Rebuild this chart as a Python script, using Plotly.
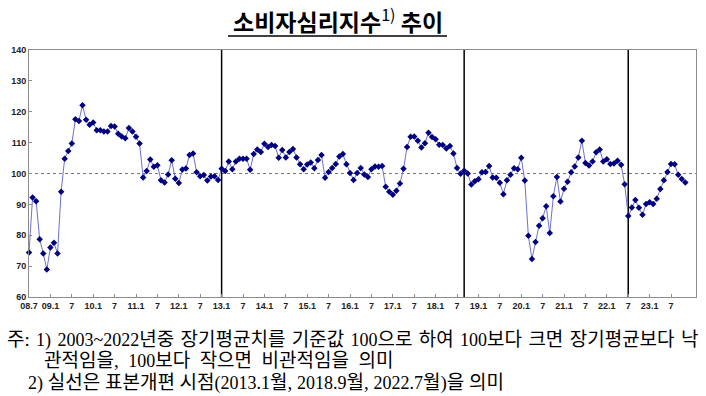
import plotly.graph_objects as go

# ---- data ----
START_YEAR, START_MONTH = 2008, 7
V2008 = [74.4, 92.2, 91.0, 78.7, 74.1, 68.9]
V2009 = [76.0, 77.6, 74.1, 94.1, 104.8, 107.3, 109.7, 117.6, 117.0, 122.1, 117.4, 115.8]
V2010 = [116.5, 114.0, 114.0, 113.6, 113.6, 115.4, 115.2, 112.9, 112.0, 111.4, 114.7, 113.6]
V2011 = [111.9, 109.7, 98.7, 100.8, 104.5, 102.2, 102.7, 97.8, 97.1, 99.7, 104.3, 98.3]
V2012 = [96.9, 101.3, 101.6, 106.0, 106.5, 100.4, 99.1, 99.5, 97.7, 99.0, 99.1, 97.9]
V2013 = [101.5, 100.8, 103.9, 101.4, 103.9, 104.8, 104.8, 104.8, 101.2, 106.3, 107.8, 107.0]
V2014 = [109.6, 108.6, 109.2, 108.9, 105.1, 107.6, 105.2, 107.0, 107.9, 105.2, 103.0, 101.4]
V2015 = [102.9, 103.6, 101.7, 104.4, 106.0, 98.6, 100.5, 101.8, 103.1, 105.5, 106.3, 103.0]
V2016 = [100.2, 97.9, 100.2, 101.8, 99.7, 98.9, 101.4, 102.3, 102.2, 102.4, 95.7, 94.1]
V2017 = [93.1, 94.4, 96.8, 101.5, 108.6, 111.9, 112.0, 110.6, 108.4, 109.8, 113.2, 111.8]
V2018 = [111.1, 109.3, 109.2, 108.1, 108.9, 106.5, 101.8, 99.9, 100.9, 100.0, 96.4, 97.5]
V2019 = [98.1, 100.4, 100.5, 102.4, 98.7, 98.6, 97.0, 93.3, 97.8, 99.6, 101.7, 101.4]
V2020 = [105.1, 97.7, 79.8, 72.3, 77.8, 83.1, 85.5, 89.4, 80.7, 92.6, 98.9, 90.9]
V2021 = [95.1, 97.3, 100.4, 102.3, 105.2, 110.6, 103.4, 102.6, 103.9, 106.9, 107.8, 103.9]
V2022 = [104.6, 103.1, 103.2, 104.1, 102.8, 96.5, 86.2, 89.0, 91.4, 88.9, 86.6, 90.1]
V2023 = [90.7, 90.1, 91.8, 95.0, 97.8, 100.5, 103.1, 103.0, 99.6, 98.2, 97.1]

values = (V2008 + V2009 + V2010 + V2011 + V2012 + V2013 + V2014 + V2015 +
          V2016 + V2017 + V2018 + V2019 + V2020 + V2021 + V2022 + V2023)


def month_labels(y, m, n):
    out = []
    for _ in range(n):
        out.append(f"{y % 100:02d}.{m}")
        m += 1
        if m > 12:
            m = 1
            y += 1
    return out


all_categories = month_labels(START_YEAR, START_MONTH, len(values) + 3)
categories = all_categories[:len(values)]

TICK_VALS = ["08.7", "09.1", "09.7", "10.1", "10.7", "11.1", "11.7", "12.1", "12.7",
             "13.1", "13.7", "14.1", "14.7", "15.1", "15.7", "16.1", "16.7", "17.1",
             "17.7", "18.1", "18.7", "19.1", "19.7", "20.1", "20.7", "21.1", "21.7",
             "22.1", "22.7", "23.1", "23.7"]
TICK_TEXT = ["08.7", "09.1", "7", "10.1", "7", "11.1", "7", "12.1", "7",
             "13.1", "7", "14.1", "7", "15.1", "7", "16.1", "7", "17.1",
             "7", "18.1", "7", "19.1", "7", "20.1", "7", "21.1", "7",
             "22.1", "7", "23.1", "7"]
Y_TICKS = [60, 70, 80, 90, 100, 110, 120, 130, 140]
REVISIONS = ["13.1", "18.9", "22.7"]
BASELINE = 100

# ---- layout geometry ----
W, H = 706, 396
L, R, T, B = 29, 10, 50, 99
PW, PH = W - L - R, H - T - B


def px2x(px):
    return (px - L) / PW


def px2y(py):
    return (H - B - py) / PH


fig = go.Figure()
fig.add_trace(go.Scatter(
    x=categories, y=values, mode="lines+markers",
    line=dict(color="#7070d0", width=1),
    marker=dict(symbol="diamond", size=5, color="#000080"),
    cliponaxis=False, hoverinfo="skip", showlegend=False,
))

shapes = []
shapes.append(dict(type="line", xref="paper", yref="y", x0=0, x1=1, y0=BASELINE, y1=BASELINE,
                   line=dict(color="#777777", width=1, dash="dot"), layer="below"))
for rv in REVISIONS:
    idx = all_categories.index(rv)
    shapes.append(dict(type="line", xref="x", yref="paper", x0=idx, x1=idx, y0=0, y1=1,
                       line=dict(color="#000000", width=1.5), layer="below"))
shapes.append(dict(type="line", xref="paper", yref="paper", x0=px2x(228), x1=px2x(447),
                   y0=px2y(36), y1=px2y(36), line=dict(color="#000000", width=1.5)))

annotations = [
    dict(text="<b>소비자심리지수</b><sup>1)</sup><b> 추이</b>", x=px2x(337.5), y=px2y(20),
         xref="paper", yref="paper", xanchor="center", yanchor="middle", showarrow=False,
         font=dict(family="Noto Sans CJK KR", size=23, color="#000000")),
]


def d(s):
    return f"<span style='font-size:18px'>{s}</span>"


S1 = "\u2004"
S2 = " "
S3 = "\u2002"
FOOT_FONT = dict(family="Liberation Serif, Noto Sans CJK KR", size=19, color="#000000")
foot_lines = [
    ("주:" + S1 + d("1)") + S1 + d("2003~2022") + "년중" + S1 + "장기평균치를" + S1 + "기준값" + S1
     + d("100") + "으로" + S1 + "하여" + S1 + d("100") + "보다" + S1 + "크면" + S1 + "장기평균보다"
     + S1 + "낙", 5, 340),
    ("관적임을," + S3 + d("100") + "보다" + S3 + "작으면" + S3 + "비관적임을" + S3 + "의미", 42, 360),
    (d("2)") + S2 + "실선은" + S2 + "표본개편" + S2 + "시점" + d("(2013.1") + "월," + S2 + d("2018.9")
     + "월," + S2 + d("2022.7") + "월)을" + S2 + "의미", 26, 383),
]
for txt, xpx, ypx in foot_lines:
    annotations.append(dict(text=txt, x=px2x(xpx), y=px2y(ypx), xref="paper", yref="paper",
                            xanchor="left", yanchor="middle", showarrow=False, font=FOOT_FONT))

fig.update_layout(
    width=W, height=H, margin=dict(l=L, r=R, t=T, b=B),
    paper_bgcolor="white", plot_bgcolor="white",
    shapes=shapes, annotations=annotations,
    xaxis=dict(type="category", categoryorder="array", categoryarray=all_categories,
               range=[0, len(all_categories) - 1], tickvals=TICK_VALS, ticktext=TICK_TEXT,
               showgrid=False, zeroline=False, showline=True, linecolor="#8c8c8c", linewidth=1,
               mirror=True, ticks="inside", ticklen=3, tickcolor="#8c8c8c", tickangle=0,
               tickfont=dict(family="Liberation Sans", size=9, color="#222222", weight="bold")),
    yaxis=dict(range=[60, 140], tickvals=Y_TICKS, showgrid=False, zeroline=False,
               showline=True, linecolor="#8c8c8c", linewidth=1, mirror=True,
               ticks="inside", ticklen=3, tickcolor="#8c8c8c",
               tickfont=dict(family="Liberation Sans", size=9, color="#222222", weight="bold")),
)

fig.write_html("out.html", config={"displayModeBar": False},
               post_script="document.body.style.margin='0';document.body.style.overflow='hidden';")
